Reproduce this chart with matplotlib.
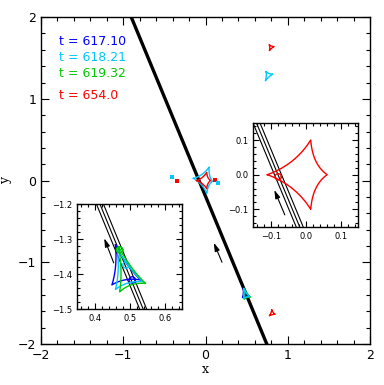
import numpy as np
import matplotlib
matplotlib.use("Agg")
from matplotlib import pyplot as plt
from matplotlib.ticker import MultipleLocator

plt.rcParams["font.family"] = "DejaVu Sans"
plt.rcParams["axes.linewidth"] = 1.0

# trajectory: three parallel lines, x at y=+2 and at y=-2
traj_top = [-0.913, -0.903, -0.893]
traj_bot = [0.734, 0.744, 0.754]
traj_y = [2.0, -2.0]

# epochs
labels = ["t = 617.10", "t = 618.21", "t = 619.32", "t = 654.0"]
colors = ["#0000ff", "#00c8ff", "#00c800", "#ff0000"]
label_y = [1.706, 1.51, 1.31, 1.04]

# caustic cusps (x, y)
red_central = [(-0.11, 0.0), (0.014, 0.10), (0.061, 0.0), (0.014, -0.10)]
cyan_central = [(-0.148, 0.027), (0.043, 0.165), (0.085, -0.01), (0.015, -0.157)]
red_plan_top = [(0.776, 1.66), (0.833, 1.64), (0.776, 1.59)]
red_plan_bot = [(0.805, -1.584), (0.845, -1.637), (0.776, -1.654)]
cyan_plan_top = [(0.736, 1.331), (0.817, 1.303), (0.727, 1.221)]
blue_plan = [(0.459, -1.317), (0.531, -1.417), (0.449, -1.431)]
cyan_plan = [(0.464, -1.327), (0.538, -1.422), (0.459, -1.444)]
green_plan = [(0.468, -1.322), (0.545, -1.427), (0.471, -1.451)]

# source positions (circle centres) and radius
src_x = [0.507, 0.489, 0.471, -0.079]
src_y = [-1.417, -1.374, -1.331, -0.006]
src_r = 0.009

# small blobs in the main panel
red_dots_x, red_dots_y = [0.12, -0.343], [0.005, -0.002]
cyan_dots_x, cyan_dots_y = [0.15, -0.404], [-0.025, 0.04]

# direction arrows (tail, head)
arrow_main = [(0.20, -1.0), (0.10, -0.76)]
arrow_in1 = [(-0.060, -0.116), (-0.090, -0.044)]
arrow_in2 = [(0.454, -1.368), (0.427, -1.298)]


def caustic(cusps, k=0.42, n=30):
    """closed curve through the cusps, edges bent toward the centre"""
    pts = np.array(cusps, float)
    c = pts.mean(axis=0)
    t = np.linspace(0, 1, n)[:, None]
    out = []
    for i in range(len(pts)):
        a, b = pts[i], pts[(i + 1) % len(pts)]
        ctrl = (1 - k) * (a + b) / 2 + k * c
        out.append((1 - t) ** 2 * a + 2 * t * (1 - t) * ctrl + t ** 2 * b)
    out = np.vstack(out)
    return out[:, 0], out[:, 1]


def circle(x, y, r, n=40):
    a = np.linspace(0, 2 * np.pi, n)
    return x + r * np.cos(a), y + r * np.sin(a)


def style(ax, major, minor, size, maj_len, min_len):
    ax.xaxis.set_major_locator(MultipleLocator(major))
    ax.yaxis.set_major_locator(MultipleLocator(major))
    ax.xaxis.set_minor_locator(MultipleLocator(minor))
    ax.yaxis.set_minor_locator(MultipleLocator(minor))
    ax.tick_params(which="both", direction="in", top=True, right=True,
                   labelsize=size, width=0.8)
    ax.tick_params(which="major", length=maj_len)
    ax.tick_params(which="minor", length=min_len)


def draw_arrow(ax, arr, lw):
    ax.annotate("", xy=arr[1], xytext=arr[0],
                arrowprops=dict(arrowstyle="-|>,head_length=0.5,head_width=0.15",
                                color="k", lw=lw, shrinkA=0, shrinkB=0))


fig = plt.figure(figsize=(3.84, 3.85), dpi=100)
ax = fig.add_axes([0.1068, 0.1065, 0.857, 0.849])

for x0, x1 in zip(traj_top, traj_bot):
    ax.plot([x0, x1], traj_y, color="k", lw=1.3)

for cus, col in [(cyan_central, colors[1]), (red_central, colors[3]),
                 (red_plan_top, colors[3]), (red_plan_bot, colors[3]),
                 (cyan_plan_top, colors[1]), (blue_plan, colors[0]),
                 (green_plan, colors[2]), (cyan_plan, colors[1])]:
    cx, cy = caustic(cus)
    ax.plot(cx, cy, color=col, lw=1.0)
ax.plot(red_dots_x, red_dots_y, "s", color=colors[3], ms=3, mew=0)
ax.plot(cyan_dots_x, cyan_dots_y, "s", color=colors[1], ms=3, mew=0)
draw_arrow(ax, arrow_main, 0.8)

for lab, col, ypos in zip(labels, colors, label_y):
    ax.text(-1.78, ypos, lab, color=col, fontsize=9, va="center")

ax.set_xlim(-2, 2)
ax.set_ylim(-2, 2)
style(ax, 1, 0.2, 9, 6, 3)
ax.set_xlabel("x", family="DejaVu Serif", fontsize=9, labelpad=1)
ax.set_ylabel("y", family="DejaVu Serif", fontsize=9, labelpad=4)

# inset 1: central caustic
ax1 = fig.add_axes([0.6597, 0.4112, 0.2734, 0.2701])
for x0, x1 in zip(traj_top, traj_bot):
    ax1.plot([x0, x1], traj_y, color="k", lw=0.8)
cx, cy = caustic(red_central)
ax1.plot(cx, cy, color=colors[3], lw=1.0)
sx, sy = circle(src_x[3], src_y[3], src_r)
ax1.plot(sx, sy, color=colors[3], lw=1.0)
draw_arrow(ax1, arrow_in1, 0.8)
ax1.set_xlim(-0.15, 0.15)
ax1.set_ylim(-0.15, 0.15)
style(ax1, 0.1, 0.02, 6, 4, 2)

# inset 2: planetary caustic
ax2 = fig.add_axes([0.2013, 0.1974, 0.2734, 0.2727])
for x0, x1 in zip(traj_top, traj_bot):
    ax2.plot([x0, x1], traj_y, color="k", lw=0.8)
for i, cus in enumerate([blue_plan, cyan_plan, green_plan]):
    cx, cy = caustic(cus)
    ax2.plot(cx, cy, color=colors[i], lw=1.0)
    sx, sy = circle(src_x[i], src_y[i], src_r)
    ax2.plot(sx, sy, color=colors[i], lw=1.0)
draw_arrow(ax2, arrow_in2, 0.8)
ax2.set_xlim(0.35, 0.65)
ax2.set_ylim(-1.5, -1.2)
style(ax2, 0.1, 0.02, 6, 4, 2)

fig.savefig("out.png", dpi=100)
